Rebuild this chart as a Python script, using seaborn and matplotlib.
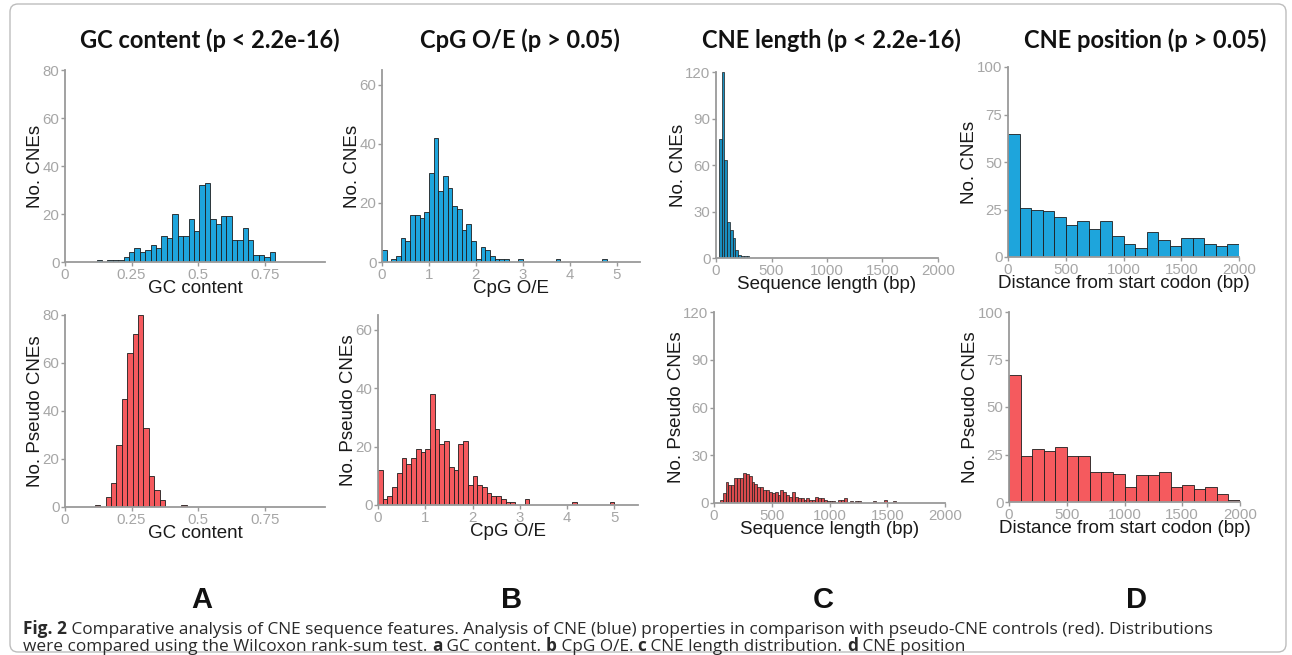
import numpy as np
import pandas as pd
import seaborn as sns
import matplotlib
matplotlib.use('Agg')
import matplotlib.pyplot as plt
from matplotlib.patches import FancyBboxPatch

# ---- data ----
gc_bin_width = 0.0203
gc_cne_start = 0.119
gc_cne_counts = [1, 0, 1, 1, 1, 2, 4, 6, 4, 5, 7, 6, 11, 10, 20, 11, 11, 18, 13, 32,
                 33, 18, 16, 19, 19, 9, 9, 14, 9, 3, 3, 2, 4]
gc_pseudo_start = 0.112
gc_pseudo_counts = [1, 0, 4, 10, 26, 45, 64, 72, 80, 33, 13, 7, 3, 0, 0, 0, 1]

cpg_bin_width = 0.1
cpg_start = 0.0
cpg_cne_counts = [4, 0, 1, 2, 8, 7, 16, 16, 15, 17, 30, 42, 24, 29, 25, 19, 18, 11, 13, 7,
                  1, 5, 4, 2, 1, 1, 1, 0, 0, 1, 0, 0, 0, 0, 0, 0, 0, 1, 0, 0,
                  0, 0, 0, 0, 0, 0, 0, 1]
cpg_pseudo_counts = [12, 2, 3, 6, 11, 16, 14, 16, 19, 18, 19, 38, 26, 21, 22, 13, 12, 21, 22, 7,
                     10, 7, 6, 4, 3, 3, 2, 1, 1, 0, 0, 2, 0, 0, 0, 0, 0, 0, 0, 0,
                     0, 1, 0, 0, 0, 0, 0, 0, 0, 1]

len_bin_width = 25
len_cne_start = 25
len_cne_counts = [77, 120, 63, 23, 18, 13, 5, 2, 1, 1, 1]
len_pseudo_start = 50
len_pseudo_counts = [2, 6, 13, 11, 11, 16, 16, 16, 19, 18, 17, 13, 12, 10, 10, 8, 8, 7, 6, 7,
                     5, 8, 7, 5, 4, 7, 4, 3, 3, 2, 3, 2, 2, 4, 3, 3, 2, 1, 1, 1,
                     0, 2, 2, 3, 0, 1, 0, 1, 1, 0, 0, 0, 0, 1, 0, 0, 0, 2, 0, 0,
                     1]

pos_bin_width = 100
pos_start = 0
pos_cne_counts = [65, 26, 25, 24, 21, 17, 19, 15, 19, 11, 7, 5, 13, 9, 6, 10, 10, 7, 6, 7]
pos_pseudo_counts = [67, 24, 28, 27, 29, 24, 24, 16, 16, 15, 8, 14, 14, 16, 8, 9, 7, 8, 4, 1]

titles = ['GC content (p < 2.2e-16)', 'CpG O/E (p > 0.05)',
          'CNE length (p < 2.2e-16)', 'CNE position (p > 0.05)']
letters = ['A', 'B', 'C', 'D']

BLUE = '#1ea5dc'
RED = '#f55a5e'
AXIS_GRAY = '#9a9a9a'
W, H = 1292, 655

sns.set_theme(style='white')
plt.rcParams['font.family'] = ['Liberation Sans', 'DejaVu Sans']

fig = plt.figure(figsize=(W / 100, H / 100), dpi=100)

# background layer in pixel coordinates
bg = fig.add_axes([0, 0, 1, 1], zorder=0)
bg.set_xlim(0, W)
bg.set_ylim(H, 0)
bg.axis('off')
bg.add_patch(FancyBboxPatch((10, 4), 1276, 648, boxstyle='round,pad=0,rounding_size=8',
                            facecolor='none', edgecolor='#bdbdbd', linewidth=1))


def px_axes(left, top, right, bottom):
    return fig.add_axes([left / W, 1 - bottom / H, (right - left) / W, (bottom - top) / H],
                        zorder=1)


def draw_hist(ax, start, width, counts, color, lw=0.6):
    counts = np.asarray(counts, dtype=float)
    edges = start + width * np.arange(len(counts) + 1)
    df = pd.DataFrame({'value': (edges[:-1] + edges[1:]) / 2, 'n': counts})
    sns.histplot(data=df, x='value', weights='n', bins=edges.tolist(), color=color, alpha=1,
                 edgecolor='#1d1d1d', linewidth=lw, ax=ax)


def style(ax, xlim, ylim, xticks, xlabels, yticks, xlabel, ylabel):
    ax.set_facecolor('none')
    ax.set_xlim(*xlim)
    ax.set_ylim(*ylim)
    ax.set_xticks(xticks)
    ax.set_xticklabels(xlabels)
    ax.set_yticks(yticks)
    for s in ['top', 'right']:
        ax.spines[s].set_visible(False)
    for s in ['left', 'bottom']:
        ax.spines[s].set_color(AXIS_GRAY)
        ax.spines[s].set_linewidth(1.3)
    ax.tick_params(bottom=True, left=True, length=3, width=1, color=AXIS_GRAY,
                   labelcolor='#a6a6a6', labelsize=10.8, pad=1)
    ax.set_xlabel(xlabel, fontsize=13.5, color='#1a1a1a', labelpad=-1)
    ax.set_ylabel(ylabel, fontsize=13.5, color='#1a1a1a', labelpad=-1)


# A: GC content
ax = px_axes(65, 70, 325, 262)
draw_hist(ax, gc_cne_start, gc_bin_width, gc_cne_counts, BLUE)
style(ax, (0, 0.977), (0, 80), [0, 0.25, 0.5, 0.75], ['0', '0.25', '0.5', '0.75'],
      [0, 20, 40, 60, 80], 'GC content', 'No. CNEs')
ax = px_axes(65, 315, 325, 507)
draw_hist(ax, gc_pseudo_start, gc_bin_width, gc_pseudo_counts, RED)
style(ax, (0, 0.977), (0, 80), [0, 0.25, 0.5, 0.75], ['0', '0.25', '0.5', '0.75'],
      [0, 20, 40, 60, 80], 'GC content', 'No. Pseudo CNEs')

# B: CpG O/E
ax = px_axes(382, 70, 640, 262)
draw_hist(ax, cpg_start, cpg_bin_width, cpg_cne_counts, BLUE)
style(ax, (0, 5.5), (0, 65), range(6), [str(i) for i in range(6)],
      [0, 20, 40, 60], 'CpG O/E', 'No. CNEs')
ax = px_axes(378, 315, 638, 505)
draw_hist(ax, cpg_start, cpg_bin_width, cpg_pseudo_counts, RED)
style(ax, (0, 5.5), (0, 65), range(6), [str(i) for i in range(6)],
      [0, 20, 40, 60], 'CpG O/E', 'No. Pseudo CNEs')

# C: CNE length
len_ticks = [0, 500, 1000, 1500, 2000]
ax = px_axes(716, 72, 938, 258)
draw_hist(ax, len_cne_start, len_bin_width, len_cne_counts, '#1a8fc0', lw=0.5)
style(ax, (0, 2000), (0, 120), len_ticks, [str(t) for t in len_ticks],
      [0, 30, 60, 90, 120], 'Sequence length (bp)', 'No. CNEs')
ax = px_axes(714, 312, 945, 503)
draw_hist(ax, len_pseudo_start, len_bin_width, len_pseudo_counts, '#d94a4d', lw=0.5)
style(ax, (0, 2000), (0, 120), len_ticks, [str(t) for t in len_ticks],
      [0, 30, 60, 90, 120], 'Sequence length (bp)', 'No. Pseudo CNEs')

# D: CNE position
ax = px_axes(1008, 67, 1239, 257)
draw_hist(ax, pos_start, pos_bin_width, pos_cne_counts, BLUE)
style(ax, (0, 2000), (0, 100), len_ticks, [str(t) for t in len_ticks],
      [0, 25, 50, 75, 100], 'Distance from start codon (bp)', 'No. CNEs')
ax = px_axes(1009, 312, 1240, 502)
draw_hist(ax, pos_start, pos_bin_width, pos_pseudo_counts, RED)
style(ax, (0, 2000), (0, 100), len_ticks, [str(t) for t in len_ticks],
      [0, 25, 50, 75, 100], 'Distance from start codon (bp)', 'No. Pseudo CNEs')

# panel titles and letters
for cx, t, l in zip([210, 520, 831, 1145], titles, letters):
    bg.text(cx, 40, t, ha='center', va='center', fontsize=17, fontweight='bold',
            family=['Lato', 'DejaVu Sans'], color='#111111')
    bg.text(cx - 8, 600, l, ha='center', va='center', fontsize=21, fontweight='bold',
            color='#111111')

# caption with mixed bold / regular runs
renderer = fig.canvas.get_renderer()
cap_font = dict(fontsize=12.4, family=['Open Sans', 'DejaVu Sans'], color='#2a2a2a')


def run_width(s, weight):
    t = fig.text(0, 0, '|' + s + '|', fontweight=weight, **cap_font)
    r = fig.text(0, 0, '||', fontweight=weight, **cap_font)
    w = t.get_window_extent(renderer).width - r.get_window_extent(renderer).width
    t.remove()
    r.remove()
    return w


caption = [
    [('Fig. 2', 'bold'),
     (' Comparative analysis of CNE sequence features. Analysis of CNE (blue) properties in '
      'comparison with pseudo-CNE controls (red). Distributions', 'normal')],
    [('were compared using the Wilcoxon rank-sum test. ', 'normal'), ('a', 'bold'),
     (' GC content. ', 'normal'), ('b', 'bold'), (' CpG O/E. ', 'normal'), ('c', 'bold'),
     (' CNE length distribution. ', 'normal'), ('d', 'bold'), (' CNE position', 'normal')],
]
for line, base_y in zip(caption, [634, 651]):
    x = 23
    for s, weight in line:
        fig.text(x / W, 1 - base_y / H, s, fontweight=weight, va='baseline', **cap_font)
        x += run_width(s, weight)

fig.savefig('out.png', dpi=100)
